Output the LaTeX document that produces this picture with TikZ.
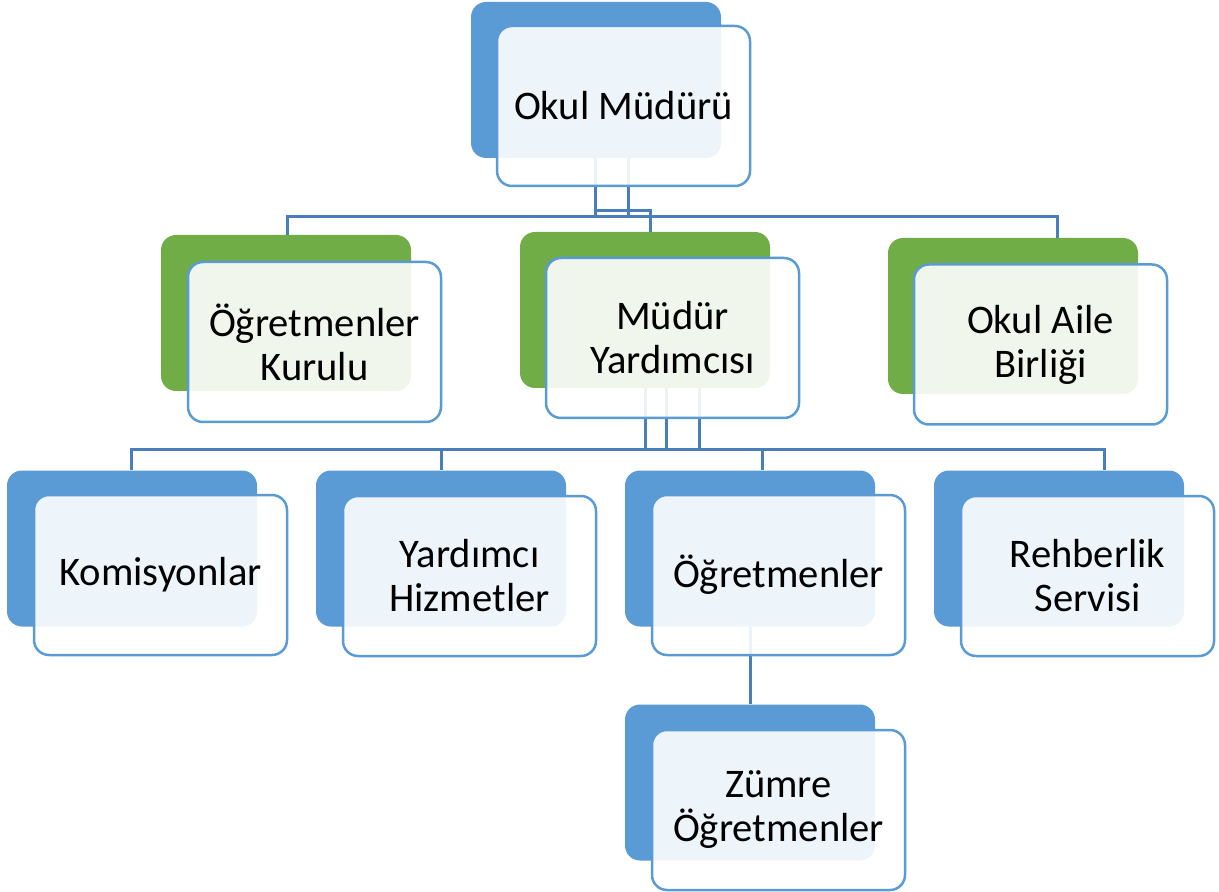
\documentclass[tikz,border=0pt]{standalone}
\usepackage{fontspec}
\setmainfont{Carlito}
\usepackage{tikz}
\usepackage{xcolor}
\definecolor{boxblue}{HTML}{5B9BD5}
\definecolor{boxgreen}{HTML}{70AD47}
\definecolor{linkblue}{HTML}{4A7EBB}

\begin{document}
\begin{tikzpicture}[x=0.5pt, y=-0.5pt,
    back/.style={rounded corners=7.5pt, minimum width=125pt, minimum height=78pt, inner sep=0pt},
    front/.style={draw=boxblue, line width=1.25pt, fill=white, fill opacity=0.9, text opacity=1,
        rounded corners=7.5pt, minimum width=126.5pt, minimum height=80pt, inner sep=0pt,
        align=center, font=\fontsize{20.3}{22}\selectfont},
    link/.style={draw=linkblue, line width=1.5pt}]
    \useasboundingbox (0,0) rectangle (1219,892);

    % Arka kutular
    \node[back, fill=boxblue] (mudur-b) at (596,80) {};
    \node[back, fill=boxgreen] (kurul-b) at (286,313) {};
    \node[back, fill=boxgreen] (yard-b) at (645,310) {};
    \node[back, fill=boxgreen] (aile-b) at (1013,316) {};
    \node[back, fill=boxblue] (kom-b) at (132,548.5) {};
    \node[back, fill=boxblue] (hizm-b) at (441,548.5) {};
    \node[back, fill=boxblue] (ogrt-b) at (750,548.5) {};
    \node[back, fill=boxblue] (rehb-b) at (1059,548.5) {};
    \node[back, fill=boxblue] (zumre-b) at (750,782.5) {};

    % Okul Müdürü -> ikinci sıra
    \coordinate (bus1l) at (287,217);
    \coordinate (bus1r) at (1057,217);
    \draw[link] (mudur-b.south -| 595,0) -- (595,217);
    \draw[link] (mudur-b.south -| 628,0) -- (628,217);
    \draw[link] (595,211) -- (650,211) -- (yard-b.north -| 650,0);
    \draw[link] (kurul-b.north -| bus1l) -- (bus1l) -- (bus1r) -- (aile-b.north -| bus1r);

    % Müdür Yardımcısı -> üçüncü sıra
    \coordinate (bus2l) at (131,450);
    \coordinate (bus2r) at (1104,450);
    \draw[link] (yard-b.south -| 645,0) -- (645,450);
    \draw[link] (yard-b.south -| 666,0) -- (666,450);
    \draw[link] (yard-b.south -| 699,0) -- (699,450);
    \draw[link] (kom-b.north -| bus2l) -- (bus2l) -- (bus2r) -- (rehb-b.north -| bus2r);
    \draw[link] (441,450) -- (hizm-b.north -| 441,0);
    \draw[link] (762,450) -- (ogrt-b.north -| 762,0);

    % Öğretmenler -> Zümre Öğretmenler
    \draw[link] (ogrt-b.south -| 750,0) -- (zumre-b.north);

    % Ön kutular
    \node[front] (mudur) at (623.5,106) {Okul Müdürü};
    \node[front] (kurul) at (314.5,342) {Öğretmenler\\Kurulu};
    \node[front] (yard) at (672.5,338) {Müdür\\Yardımcısı};
    \node[front] (aile) at (1040.5,344.5) {Okul Aile\\Birliği};
    \node[front] (kom) at (160.5,575) {Komisyonlar};
    \node[front] (hizm) at (469.5,576) {Yardımcı\\Hizmetler};
    \node[front] (ogrt) at (778.5,575) {Öğretmenler};
    \node[front] (rehb) at (1087.5,576) {Rehberlik\\Servisi};
    \node[front] (zumre) at (778.5,810) {Zümre\\Öğretmenler};
\end{tikzpicture}
\end{document}
